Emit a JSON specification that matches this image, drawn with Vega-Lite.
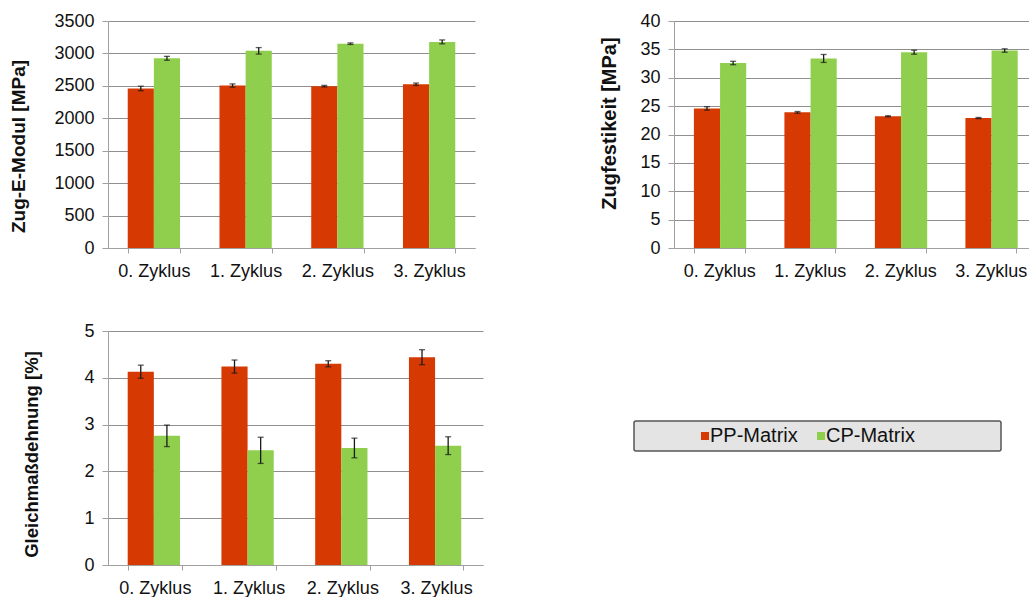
{
  "$schema": "https://vega.github.io/schema/vega-lite/v6.json",
  "padding": {"left": 9, "top": 12, "right": 0, "bottom": 0},
  "bounds": "flush",
  "columns": 2,
  "spacing": {"column": 191, "row": 83},
  "resolve": {"legend": {"color": "independent"}},
  "config": {
    "font": "Liberation Sans",
    "view": {"stroke": null},
    "axis": {
      "labelFont": "Liberation Sans",
      "titleFont": "Liberation Sans",
      "labelColor": "#111111",
      "titleColor": "#111111",
      "labelFontSize": 18,
      "labelOverlap": false,
      "domainColor": "#a0a0a0",
      "tickColor": "#a0a0a0",
      "gridColor": "#8f8f8f",
      "gridWidth": 1
    },
    "axisX": {"labelAngle": 0, "tickBand": "extent", "tickSize": 5, "labelPadding": 9, "grid": false, "title": null},
    "axisY": {"tickSize": 6, "labelPadding": 8, "grid": true, "titleFontWeight": "bold", "format": "d"},
    "legend": {
      "orient": "none",
      "direction": "horizontal",
      "fillColor": "#e4e4e4",
      "strokeColor": "#555555",
      "strokeWidth": 1.5,
      "cornerRadius": 2,
      "padding": 5,
      "symbolType": "square",
      "symbolSize": 64,
      "symbolStrokeWidth": 0,
      "labelFontSize": 20,
      "labelColor": "#111111",
      "labelOffset": -5,
      "labelLimit": 400,
      "columnPadding": 13,
      "titleOrient": "left",
      "titleFontSize": 19,
      "titlePadding": 0,
      "titleLimit": 400
    }
  },
  "datasets": {
    "modul": [
      {"zyklus": "0. Zyklus", "serie": "PP-Matrix", "wert": 2460, "lo": 2425, "hi": 2495},
      {"zyklus": "0. Zyklus", "serie": "CP-Matrix", "wert": 2925, "lo": 2895, "hi": 2955},
      {"zyklus": "1. Zyklus", "serie": "PP-Matrix", "wert": 2505, "lo": 2480, "hi": 2530},
      {"zyklus": "1. Zyklus", "serie": "CP-Matrix", "wert": 3040, "lo": 2990, "hi": 3090},
      {"zyklus": "2. Zyklus", "serie": "PP-Matrix", "wert": 2495, "lo": 2483, "hi": 2507},
      {"zyklus": "2. Zyklus", "serie": "CP-Matrix", "wert": 3150, "lo": 3138, "hi": 3162},
      {"zyklus": "3. Zyklus", "serie": "PP-Matrix", "wert": 2525, "lo": 2507, "hi": 2543},
      {"zyklus": "3. Zyklus", "serie": "CP-Matrix", "wert": 3178, "lo": 3148, "hi": 3208}
    ],
    "festigkeit": [
      {"zyklus": "0. Zyklus", "serie": "PP-Matrix", "wert": 24.6, "lo": 24.3, "hi": 24.9},
      {"zyklus": "0. Zyklus", "serie": "CP-Matrix", "wert": 32.6, "lo": 32.3, "hi": 32.9},
      {"zyklus": "1. Zyklus", "serie": "PP-Matrix", "wert": 23.9, "lo": 23.75, "hi": 24.05},
      {"zyklus": "1. Zyklus", "serie": "CP-Matrix", "wert": 33.4, "lo": 32.7, "hi": 34.1},
      {"zyklus": "2. Zyklus", "serie": "PP-Matrix", "wert": 23.2, "lo": 23.1, "hi": 23.3},
      {"zyklus": "2. Zyklus", "serie": "CP-Matrix", "wert": 34.5, "lo": 34.15, "hi": 34.85},
      {"zyklus": "3. Zyklus", "serie": "PP-Matrix", "wert": 22.9, "lo": 22.8, "hi": 23.0},
      {"zyklus": "3. Zyklus", "serie": "CP-Matrix", "wert": 34.8, "lo": 34.5, "hi": 35.1}
    ],
    "dehnung": [
      {"zyklus": "0. Zyklus", "serie": "PP-Matrix", "wert": 4.13, "lo": 3.99, "hi": 4.27},
      {"zyklus": "0. Zyklus", "serie": "CP-Matrix", "wert": 2.76, "lo": 2.53, "hi": 2.99},
      {"zyklus": "1. Zyklus", "serie": "PP-Matrix", "wert": 4.24, "lo": 4.1, "hi": 4.38},
      {"zyklus": "1. Zyklus", "serie": "CP-Matrix", "wert": 2.45, "lo": 2.17, "hi": 2.73},
      {"zyklus": "2. Zyklus", "serie": "PP-Matrix", "wert": 4.3, "lo": 4.235, "hi": 4.365},
      {"zyklus": "2. Zyklus", "serie": "CP-Matrix", "wert": 2.5, "lo": 2.29, "hi": 2.71},
      {"zyklus": "3. Zyklus", "serie": "PP-Matrix", "wert": 4.44, "lo": 4.28, "hi": 4.6},
      {"zyklus": "3. Zyklus", "serie": "CP-Matrix", "wert": 2.55, "lo": 2.36, "hi": 2.74}
    ]
  },
  "concat": [
    {
      "width": 367,
      "height": 227,
      "data": {"name": "modul"},
      "encoding": {
        "x": {"field": "zyklus", "type": "nominal", "scale": {"paddingInner": 0.43, "paddingOuter": 0.215}},
        "xOffset": {"field": "serie", "type": "nominal", "scale": {"domain": ["PP-Matrix", "CP-Matrix"]}}
      },
      "layer": [
        {
          "mark": {"type": "bar"},
          "encoding": {
            "y": {"field": "wert", "type": "quantitative", "scale": {"domain": [0, 3500]}, "axis": {"title": "Zug-E-Modul [MPa]", "values": [0, 500, 1000, 1500, 2000, 2500, 3000, 3500], "titleFontSize": 19, "titlePadding": 25, "titleY": 125}},
            "color": {"field": "serie", "type": "nominal", "scale": {"domain": ["PP-Matrix", "CP-Matrix"], "range": ["#d63a02", "#90cf4e"]}, "legend": null}
          }
        },
        {
          "mark": {"type": "rule", "color": "#1a1a1a", "strokeWidth": 1.3},
          "encoding": {"y": {"field": "lo", "type": "quantitative", "axis": {"title": "Zug-E-Modul [MPa]", "values": [0, 500, 1000, 1500, 2000, 2500, 3000, 3500], "titleFontSize": 19, "titlePadding": 25, "titleY": 125}}, "y2": {"field": "hi"}}
        },
        {
          "mark": {"type": "tick", "color": "#1a1a1a", "thickness": 1.3, "size": 6},
          "encoding": {"y": {"field": "lo", "type": "quantitative", "axis": {"title": "Zug-E-Modul [MPa]", "values": [0, 500, 1000, 1500, 2000, 2500, 3000, 3500], "titleFontSize": 19, "titlePadding": 25, "titleY": 125}}}
        },
        {
          "mark": {"type": "tick", "color": "#1a1a1a", "thickness": 1.3, "size": 6},
          "encoding": {"y": {"field": "hi", "type": "quantitative", "axis": {"title": "Zug-E-Modul [MPa]", "values": [0, 500, 1000, 1500, 2000, 2500, 3000, 3500], "titleFontSize": 19, "titlePadding": 25, "titleY": 125}}}
        }
      ]
    },
    {
      "width": 362,
      "height": 227,
      "data": {"name": "festigkeit"},
      "encoding": {
        "x": {"field": "zyklus", "type": "nominal", "scale": {"paddingInner": 0.44, "paddingOuter": 0.22}},
        "xOffset": {"field": "serie", "type": "nominal", "scale": {"domain": ["PP-Matrix", "CP-Matrix"]}}
      },
      "layer": [
        {
          "mark": {"type": "bar"},
          "encoding": {
            "y": {"field": "wert", "type": "quantitative", "scale": {"domain": [0, 40]}, "axis": {"title": "Zugfestikeit [MPa]", "values": [0, 5, 10, 15, 20, 25, 30, 35, 40], "titleFontSize": 20, "titlePadding": 20, "titleY": 102}},
            "color": {"field": "serie", "type": "nominal", "scale": {"domain": ["PP-Matrix", "CP-Matrix"], "range": ["#d63a02", "#90cf4e"]}, "legend": null}
          }
        },
        {
          "mark": {"type": "rule", "color": "#1a1a1a", "strokeWidth": 1.3},
          "encoding": {"y": {"field": "lo", "type": "quantitative", "axis": {"title": "Zugfestikeit [MPa]", "values": [0, 5, 10, 15, 20, 25, 30, 35, 40], "titleFontSize": 20, "titlePadding": 20, "titleY": 102}}, "y2": {"field": "hi"}}
        },
        {
          "mark": {"type": "tick", "color": "#1a1a1a", "thickness": 1.3, "size": 6},
          "encoding": {"y": {"field": "lo", "type": "quantitative", "axis": {"title": "Zugfestikeit [MPa]", "values": [0, 5, 10, 15, 20, 25, 30, 35, 40], "titleFontSize": 20, "titlePadding": 20, "titleY": 102}}}
        },
        {
          "mark": {"type": "tick", "color": "#1a1a1a", "thickness": 1.3, "size": 6},
          "encoding": {"y": {"field": "hi", "type": "quantitative", "axis": {"title": "Zugfestikeit [MPa]", "values": [0, 5, 10, 15, 20, 25, 30, 35, 40], "titleFontSize": 20, "titlePadding": 20, "titleY": 102}}}
        }
      ]
    },
    {
      "width": 375,
      "height": 234,
      "data": {"name": "dehnung"},
      "encoding": {
        "x": {"field": "zyklus", "type": "nominal", "scale": {"paddingInner": 0.42, "paddingOuter": 0.21}},
        "xOffset": {"field": "serie", "type": "nominal", "scale": {"domain": ["PP-Matrix", "CP-Matrix"]}}
      },
      "layer": [
        {
          "mark": {"type": "bar"},
          "encoding": {
            "y": {"field": "wert", "type": "quantitative", "scale": {"domain": [0, 5]}, "axis": {"title": "Gleichmaßdehnung [%]", "values": [0, 1, 2, 3, 4, 5], "titleFontSize": 18.5, "titlePadding": 42, "titleY": 123}},
            "color": {"field": "serie", "type": "nominal", "scale": {"domain": ["PP-Matrix", "CP-Matrix"], "range": ["#d63a02", "#90cf4e"]}, "legend": {"legendX": 526, "legendY": 90, "title": "\u2800\u2800\u2800\u2800", "labelExpr": "datum.label == 'CP-Matrix' ? datum.label + '\u2800\u2800\u2800 \u2800\u2800' : datum.label"}}
          }
        },
        {
          "mark": {"type": "rule", "color": "#1a1a1a", "strokeWidth": 1.3},
          "encoding": {"y": {"field": "lo", "type": "quantitative", "axis": {"title": "Gleichmaßdehnung [%]", "values": [0, 1, 2, 3, 4, 5], "titleFontSize": 18.5, "titlePadding": 42, "titleY": 123}}, "y2": {"field": "hi"}}
        },
        {
          "mark": {"type": "tick", "color": "#1a1a1a", "thickness": 1.3, "size": 6},
          "encoding": {"y": {"field": "lo", "type": "quantitative", "axis": {"title": "Gleichmaßdehnung [%]", "values": [0, 1, 2, 3, 4, 5], "titleFontSize": 18.5, "titlePadding": 42, "titleY": 123}}}
        },
        {
          "mark": {"type": "tick", "color": "#1a1a1a", "thickness": 1.3, "size": 6},
          "encoding": {"y": {"field": "hi", "type": "quantitative", "axis": {"title": "Gleichmaßdehnung [%]", "values": [0, 1, 2, 3, 4, 5], "titleFontSize": 18.5, "titlePadding": 42, "titleY": 123}}}
        }
      ]
    }
  ]
}
